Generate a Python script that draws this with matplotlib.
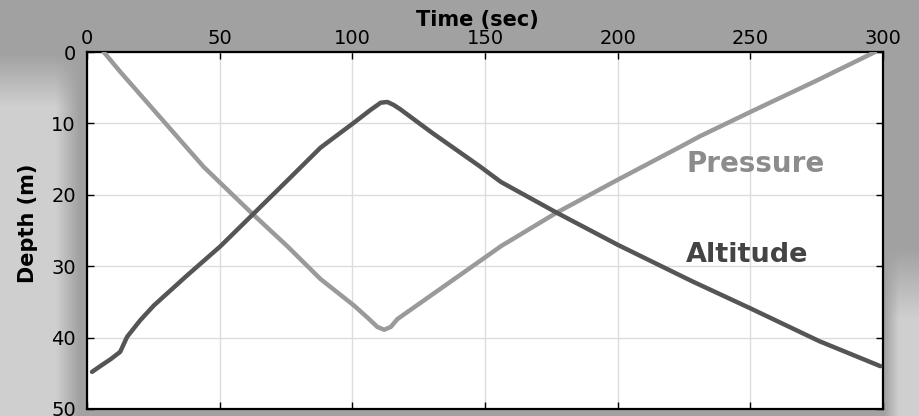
import numpy as np
import matplotlib
matplotlib.use("Agg")
import matplotlib.pyplot as plt

# ---- data ----
pressure_t = [6.3, 12.6, 27.7, 44, 61.6, 75.5, 88, 100.6, 106, 109.4, 112, 114.5, 117,
              130, 148, 156, 177, 200, 224, 231, 250, 275, 297]
pressure_d = [0.0, 2.8, 9.2, 16.1, 22.4, 27.2, 31.8, 35.5, 37.3, 38.5, 38.9, 38.5, 37.4,
              34.0, 29.3, 27.2, 22.5, 17.9, 13.2, 11.8, 8.4, 4.0, 0.0]

altitude_t = [1.9, 5, 9, 12.5, 15.1, 20, 25.2, 37.7, 50.3, 62.9, 75.5, 88, 100.6,
              106.9, 110.7, 113.2, 115.5, 118, 130, 148, 156, 177, 200, 228, 250, 276, 299]
altitude_d = [44.8, 44.0, 43.0, 42.0, 39.9, 37.6, 35.5, 31.3, 27.2, 22.6, 18.0, 13.4, 9.9,
              8.1, 7.1, 7.0, 7.4, 8.0, 11.3, 16.0, 18.2, 22.5, 27.0, 32.1, 35.9, 40.5, 44.0]

x_ticks = [0, 50, 100, 150, 200, 250, 300]
y_ticks = [0, 10, 20, 30, 40, 50]

pressure_label = "Pressure"
altitude_label = "Altitude"
x_title = "Time (sec)"
y_title = "Depth (m)"

# ---- figure ----
plt.rcParams['font.family'] = ['DejaVu Sans']
W, H = 920, 416
fig = plt.figure(figsize=(W / 100, H / 100), dpi=100)
fig.patch.set_facecolor('#a4a4a4')

# decorative background (smooth shading, lighter along the left and lower-right edges)
bg = fig.add_axes([0, 0, 1, 1], zorder=-10)
gx, gy = np.meshgrid(np.linspace(0, 1, 460), np.linspace(0, 1, 208))
left_band = np.clip((0.085 - gx) * 40, 0, 1) * np.clip((gy - 0.13) * 8, 0, 1)
right_band = np.clip((gx - 0.962) * 60, 0, 1) * np.clip((gy - 0.6) * 6, 0, 1)
shade = 0.63 + 0.18 * left_band + 0.18 * right_band
bg.imshow(shade, cmap='gray', vmin=0, vmax=1, aspect='auto', extent=[0, 1, 0, 1],
          origin='upper')
bg.set_axis_off()

left, right = 87 / W, 883 / W
top, bottom = 1 - 52 / H, 1 - 409 / H
ax = fig.add_axes([left, bottom, right - left, top - bottom])
ax.set_facecolor('white')

ax.plot(pressure_t, pressure_d, color='#9a9a9a', lw=3.2, solid_capstyle='round',
        solid_joinstyle='round', zorder=3)
ax.plot(altitude_t, altitude_d, color='#555555', lw=3.2, solid_capstyle='round',
        solid_joinstyle='round', zorder=4)

ax.set_xlim(0, 300)
ax.set_ylim(50, 0)
ax.set_xticks(x_ticks)
ax.set_yticks(y_ticks)
ax.xaxis.tick_top()
ax.xaxis.set_label_position('top')
ax.tick_params(axis='both', which='both', direction='in', length=5, width=1,
               top=True, bottom=True, left=True, right=True,
               labeltop=True, labelbottom=False, labelsize=14, colors='black')
ax.tick_params(axis='x', pad=3)
ax.tick_params(axis='y', pad=8)
ax.grid(True, color='#dcdcdc', lw=1.0)
ax.set_axisbelow(True)
for s in ax.spines.values():
    s.set_linewidth(1.6)
    s.set_color('black')

ax.set_xlabel(x_title, fontsize=15, fontweight='bold')
ax.xaxis.set_label_coords(0.49, 1.072)
ax.set_ylabel(y_title, fontsize=15, fontweight='bold')
ax.yaxis.set_label_coords(-0.062, 0.52)

ax.text(225.8, 16.8, pressure_label, color='#8c8c8c', fontsize=20, fontweight='bold',
        va='baseline', ha='left')
ax.text(225.8, 29.4, altitude_label, color='#444444', fontsize=19.5, fontweight='bold',
        va='baseline', ha='left')

fig.savefig('out.png', dpi=100, facecolor=fig.get_facecolor())
